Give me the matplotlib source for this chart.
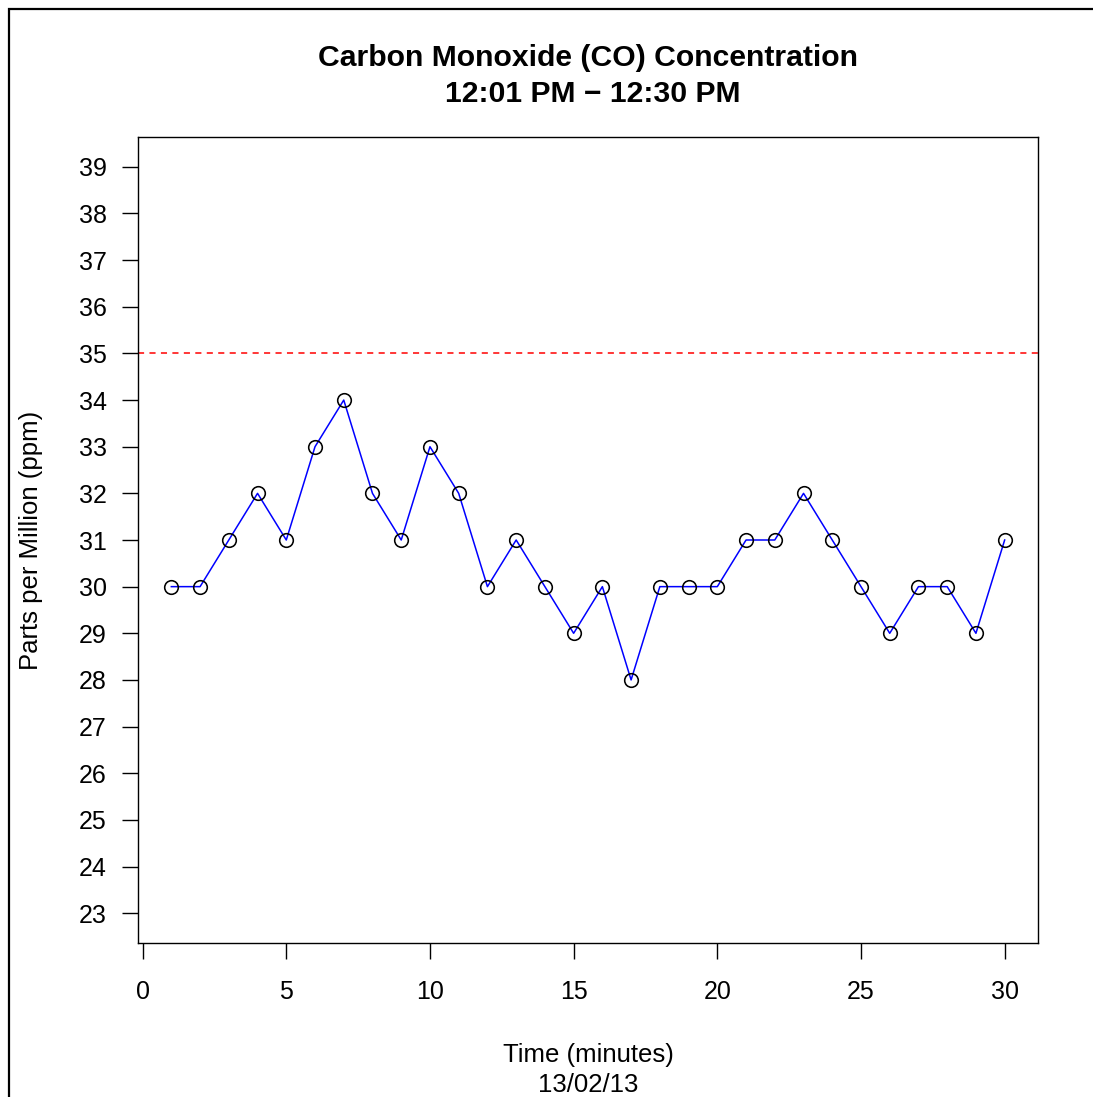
import matplotlib
matplotlib.use("Agg")
import matplotlib.pyplot as plt
from matplotlib.patches import Rectangle

plt.rcParams['font.family'] = ['Liberation Sans', 'DejaVu Sans']

minutes = list(range(1, 31))
co_ppm = [30, 30, 31, 32, 31, 33, 34, 32, 31, 33, 32, 30, 31, 30, 29,
          30, 28, 30, 30, 30, 31, 31, 32, 31, 30, 29, 30, 30, 29, 31]
threshold = 35
x_ticks = [0, 5, 10, 15, 20, 25, 30]
y_ticks = list(range(23, 40))
title_lines = ["Carbon Monoxide (CO) Concentration", "12:01 PM \u2212 12:30 PM"]
xlabel_lines = ["Time (minutes)", "13/02/13"]
ylabel = "Parts per Million (ppm)"

W, H = 1093, 1097
fig = plt.figure(figsize=(W / 100, H / 100), dpi=100)
fig.patch.set_facecolor('white')

L, R, T, B = 138, 1038, 137, 943
ax = fig.add_axes([L / W, 1 - B / H, (R - L) / W, (B - T) / H])

ax.plot(minutes, co_ppm, color='#0000FF', lw=1.1, zorder=2)
ax.plot(minutes, co_ppm, ls='none', marker='o', ms=9.8, mfc='none',
        mec='black', mew=1.15, zorder=3)
ax.axhline(threshold, color='red', ls=(0, (4, 3.5)), lw=1.1, zorder=1)

ax.set_xlim(-0.16, 31.16)
ax.set_ylim(22.36, 39.64)
ax.set_xticks(x_ticks)
ax.set_yticks(y_ticks)
ax.tick_params(axis='both', direction='out', length=11.5, width=1.0,
               labelsize=18, color='black', labelcolor='black')
ax.tick_params(axis='x', pad=15)
ax.tick_params(axis='y', pad=11)
for s in ax.spines.values():
    s.set_linewidth(1.0)
    s.set_color('black')

fig.text(588 / W, 1 - 58 / H, title_lines[0], ha='center', va='center',
         fontsize=21.7, fontweight='bold')
fig.text(593 / W, 1 - 94 / H, title_lines[1], ha='center', va='center',
         fontsize=21.7, fontweight='bold')
fig.text(588 / W, 1 - 1055 / H, xlabel_lines[0], ha='center', va='center',
         fontsize=18.5)
fig.text(588 / W, 1 - 1085 / H, xlabel_lines[1], ha='center', va='center',
         fontsize=18.5)
fig.text(31 / W, 1 - 540 / H, ylabel, ha='center', va='center',
         rotation=90, fontsize=18.5)

fig.patches.append(Rectangle((9 / W, -0.2), 2.0, 1.2 - 9 / H,
                             transform=fig.transFigure, fill=False,
                             ec='black', lw=1.6))

fig.savefig('out.png', dpi=100, facecolor='white')
